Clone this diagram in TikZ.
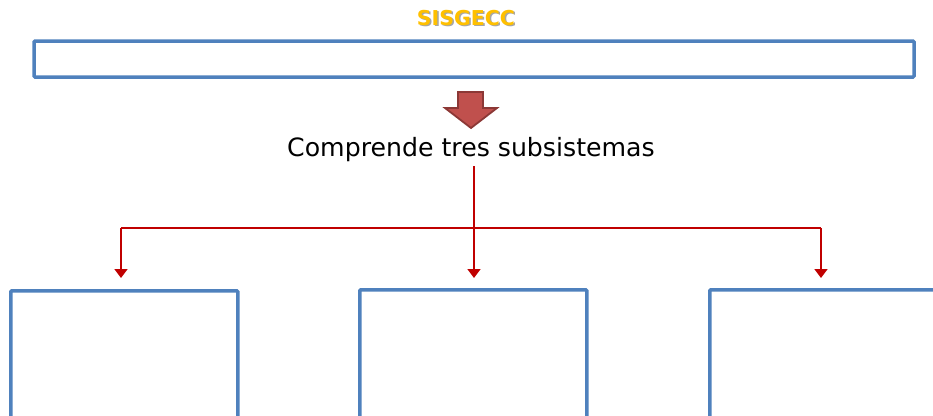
\documentclass[tikz,border=0pt]{standalone}
\usepackage{fontspec}
\setmainfont{DejaVu Sans}
\usetikzlibrary{arrows.meta}
\definecolor{boxblue}{HTML}{4F81BD}
\definecolor{linered}{HTML}{C00000}
\definecolor{arrfill}{HTML}{C0504D}
\definecolor{arrdraw}{HTML}{8C3836}
\definecolor{titlegold}{HTML}{FFC000}
\begin{document}
\begin{tikzpicture}[x=1pt,y=-1pt,
  bluebox/.style={draw=boxblue,line width=3.5pt,inner sep=0pt,rounded corners=1pt},
  conn/.style={draw=linered,line width=1.8pt},
  tip/.style={-{Triangle[length=9pt,width=13pt]}}]
\useasboundingbox (0,0) rectangle (933,415);
\clip (0,0) rectangle (933,415);
% title
\node[text=black!35,font=\bfseries\fontsize{20.5}{20.5}\selectfont] at (467.5,19.5) {SISGECC};
\node (title) [text=titlegold,font=\bfseries\fontsize{20.5}{20.5}\selectfont] at (466,18) {SISGECC};
% top box
\node (top) [bluebox,minimum width=880pt,minimum height=36pt] at (474,59) {};
% block arrow
\draw[fill=arrfill,draw=arrdraw,line width=1.8pt,line join=miter]
  (458,92) -- (483,92) -- (483,108) -- (497,108) -- (471,128) -- (445,108) -- (458,108) -- cycle;
% text
\node (txt) [font=\fontsize{25.2}{25.2}\selectfont,inner sep=0pt] at (471,150) {Comprende tres subsistemas};
% bottom boxes
\node (b1) [bluebox,minimum width=227pt,minimum height=150pt,anchor=north west] at (9,289) {};
\node (b2) [bluebox,minimum width=227pt,minimum height=150pt,anchor=north west] at (358,288) {};
\node (b3) [bluebox,minimum width=227pt,minimum height=150pt,anchor=north west] at (708,288) {};
% connectors
\coordinate (c) at (474,166);
\coordinate (hl) at (121,228);
\coordinate (hr) at (821,228);
\draw[conn,tip,shorten >=10pt] (c) -- (c |- b2.north);
\draw[conn,tip,shorten >=11pt] (hl) -- (hl |- b1.north);
\draw[conn,tip,shorten >=10pt] (hr) -- (hr |- b3.north);
\draw[conn] (hl) -- (hr);
\end{tikzpicture}
\end{document}
